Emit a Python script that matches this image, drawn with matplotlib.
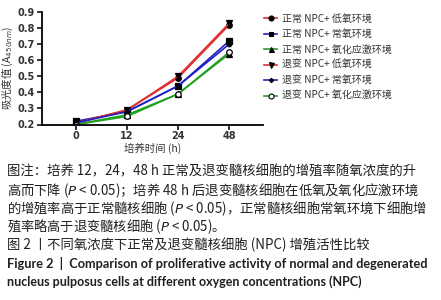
import matplotlib
matplotlib.use("Agg")
import matplotlib.pyplot as plt
from matplotlib.lines import Line2D

plt.rcParams['font.family'] = ['Noto Sans CJK SC', 'DejaVu Sans']

# ---- data ----
time_labels = ["0", "12", "24", "48"]
series_names = ["正常 NPC+ 低氧环境", "正常 NPC+ 常氧环境", "正常 NPC+ 氧化应激环境",
                "退变 NPC+ 低氧环境", "退变 NPC+ 常氧环境", "退变 NPC+ 氧化应激环境"]
normal_hypoxia = [0.21, 0.29, 0.49, 0.82]
normal_normoxia = [0.22, 0.28, 0.44, 0.72]
normal_oxidative = [0.20, 0.26, 0.39, 0.64]
degen_hypoxia = [0.21, 0.29, 0.50, 0.83]
degen_normoxia = [0.21, 0.28, 0.44, 0.70]
degen_oxidative = [0.20, 0.25, 0.39, 0.65]
errors = [[0.01, 0.01, 0.01, 0.015], [0.01, 0.01, 0.01, 0.012], [0.008, 0.008, 0.008, 0.01],
          [0.01, 0.01, 0.01, 0.015], [0.008, 0.008, 0.01, 0.01], [0.008, 0.008, 0.008, 0.01]]

caption_lines = [
    "图注：培养 12，24，48 h 正常及退变髓核细胞的增殖率随氧浓度的升",
    "高而下降 ($\\it{P}$ < 0.05)；培养 48 h 后退变髓核细胞在低氧及氧化应激环境",
    "的增殖率高于正常髓核细胞 ($\\it{P}$ < 0.05)，正常髓核细胞常氧环境下细胞增",
    "殖率略高于退变髓核细胞 ($\\it{P}$ < 0.05)。",
    "图 2 丨不同氧浓度下正常及退变髓核细胞 (NPC) 增殖活性比较",
    "Figure 2  |  Comparison of proliferative activity of normal and degenerated",
    "nucleus pulposus cells at different oxygen concentrations (NPC)",
]

all_series = [normal_hypoxia, normal_normoxia, normal_oxidative,
              degen_hypoxia, degen_normoxia, degen_oxidative]
colors = ["#e03030", "#2020c0", "#20a020", "#e03030", "#2020c0", "#20a020"]
markers = ["o", "s", "^", "v", "D", "o"]
mfc = ["k", "k", "k", "k", "k", "white"]
msizes = [4, 3.8, 4, 4, 2.5, 4]

fig = plt.figure(figsize=(4.41, 3.0), dpi=100)
W, H = 441, 300
ax = fig.add_axes([42 / W, 1 - 124.5 / H, (263 - 42) / W, (124.5 - 12) / H])

x = list(range(len(time_labels)))
for vals, err, c, m, fc, ms, name in zip(all_series, errors, colors, markers, mfc, msizes, series_names):
    ax.errorbar(x, vals, yerr=err, color=c, lw=1.2, marker=m, ms=ms, mfc=fc, mec="k",
                mew=0.9, ecolor="k", elinewidth=0.9, capsize=1.5, label=name)

ax.set_xlim(-0.66, 3.66)
ax.set_ylim(0.2, 0.9)
ax.set_xticks(x)
ax.set_xticklabels(time_labels)
ax.set_yticks([0.2, 0.3, 0.4, 0.5, 0.6, 0.7, 0.8, 0.9])
ax.set_yticklabels(["0.2", "0.3", "0.4", "0.5", "0.6", "0.7", "0.8", "0.9"])
for s in ["top", "right"]:
    ax.spines[s].set_visible(False)
for s in ["left", "bottom"]:
    ax.spines[s].set_linewidth(1.3)
ax.tick_params(axis="both", width=1.1, length=3.5, labelsize=7, colors="k", pad=1.5)
for lab in ax.get_xticklabels() + ax.get_yticklabels():
    lab.set_fontweight("bold")
    lab.set_color("#333333")
    lab.set_family(["DejaVu Sans"])
ax.set_xlabel("培养时间 (h)", fontsize=7.5, color="#333333", labelpad=1)
ax.set_ylabel("吸光度值 (A$_{450nm}$)", fontsize=7.5, color="#333333", labelpad=0)
ax.yaxis.set_label_coords(-27 / 221, 0.5)

handles = [Line2D([0], [0], color=c, lw=1.2, marker=m, ms=ms * 0.9, mfc=fc, mec="k", mew=0.8)
           for c, m, fc, ms in zip(colors, markers, mfc, msizes)]
leg = fig.legend(handles, series_names, loc="upper left", bbox_to_anchor=(264 / W, 1 - 13.5 / H),
                 frameon=False, fontsize=7.2, handlelength=1.3, handletextpad=0.5,
                 labelspacing=0.55, borderaxespad=0, borderpad=0)
for t in leg.get_texts():
    t.set_color("#333333")

# caption
targets = [(171.5, 420, "normal"), (191, 421, "normal"), (209, 421, "normal"),
           (227, 211, "normal"), (245, 361, "normal"), (263.5, 421, "bold"), (281.5, 353, "bold")]
fig.canvas.draw()
renderer = fig.canvas.get_renderer()
for line, (yc, width, weight) in zip(caption_lines, targets):
    fs = 8.5
    fam = ["Noto Sans CJK SC", "DejaVu Sans"] if weight == "normal" else ["Lato", "DejaVu Sans"]
    t = fig.text(7 / W, 1 - yc / H, line, fontsize=fs, fontweight=weight, color="#231f20",
                 ha="left", va="center", family=fam)
    for _ in range(3):
        bb = t.get_window_extent(renderer)
        fs = fs * width / bb.width
        t.set_fontsize(fs)
    if weight == "normal":
        t.set_fontsize(min(fs, 9.6))

fig.savefig("out.png", dpi=100)
